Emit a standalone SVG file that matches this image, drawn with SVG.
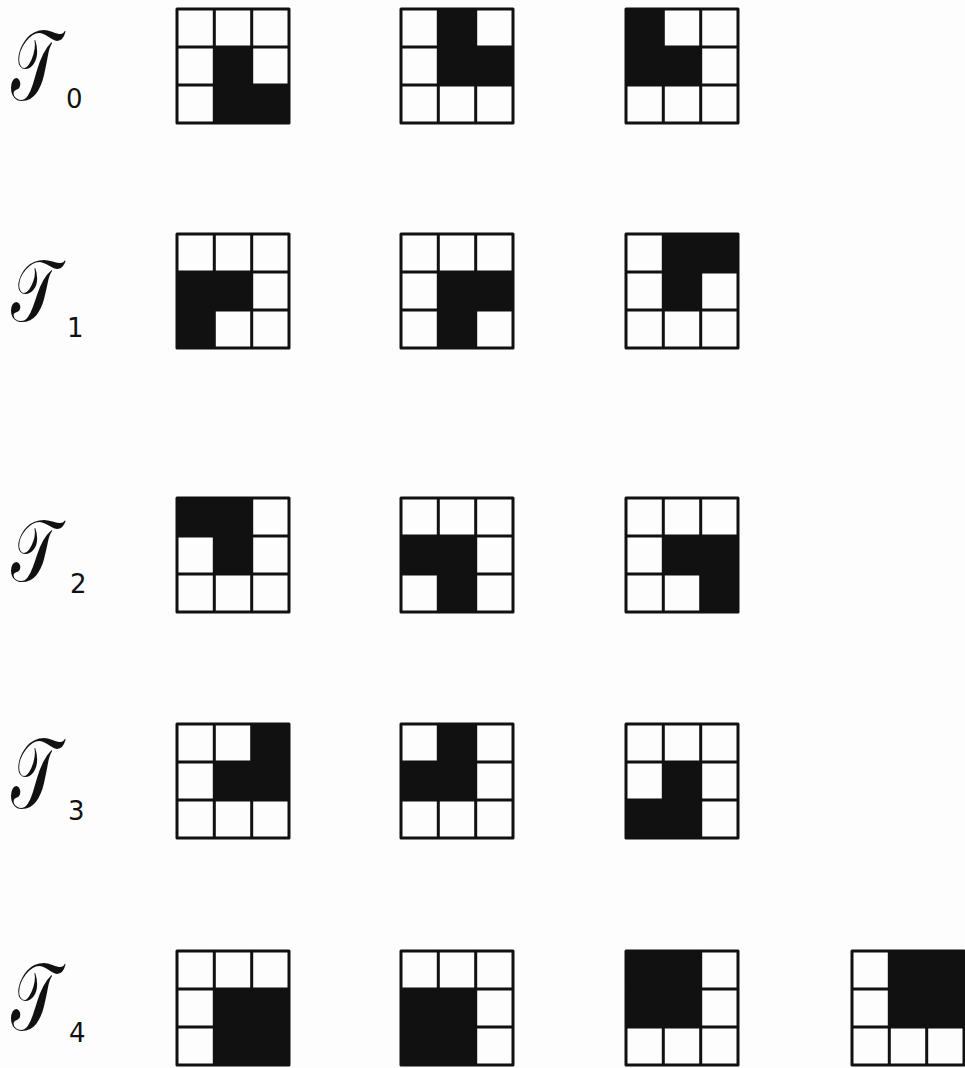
<svg xmlns="http://www.w3.org/2000/svg" xmlns:xlink="http://www.w3.org/1999/xlink" width="965" height="1068" viewBox="0 0 965 1068">
<style>
.f{fill:#111}
.ln{fill:none;stroke:#111;stroke-width:3;stroke-linejoin:round}
.t{font-family:"DejaVu Serif","DejaVu Sans","Noto Sans",serif;font-size:100px;fill:#111}
.s{font-family:"DejaVu Sans","Liberation Sans",sans-serif;font-size:26px;fill:#111}
</style>
<defs>
<g id="grid">
<rect class="ln" x="0" y="0" width="112" height="114"/>
<path class="ln" d="M37.3,0V114M74.7,0V114M0,38H112M0,76H112"/>
</g>
</defs>
<rect width="965" height="1068" fill="#fdfdfd"/>
<g id="labels">
<g id="label0"><text class="t" transform="translate(11,100) scale(0.62,1)">𝒯</text><text class="s" x="66" y="108">0</text></g>
<g id="label1"><text class="t" transform="translate(11,321) scale(0.62,0.88)">𝒯</text><text class="s" x="67" y="337">1</text></g>
<g id="label2"><text class="t" transform="translate(11,581) scale(0.62,0.88)">𝒯</text><text class="s" x="70" y="593">2</text></g>
<g id="label3"><text class="t" transform="translate(11,808) scale(0.62,1)">𝒯</text><text class="s" x="68" y="820">3</text></g>
<g id="label4"><text class="t" transform="translate(11,1030) scale(0.62,0.95)">𝒯</text><text class="s" x="69" y="1042">4</text></g>
</g>
<g id="r0c0" transform="translate(177,9)"><rect class="f" x="37.3" y="38" width="37.4" height="76"/><rect class="f" x="74.7" y="76" width="37.3" height="38"/><use xlink:href="#grid"/></g>
<g id="r0c1" transform="translate(401,9)"><rect class="f" x="37.3" y="0" width="37.4" height="76"/><rect class="f" x="74.7" y="38" width="37.3" height="38"/><use xlink:href="#grid"/></g>
<g id="r0c2" transform="translate(626,9)"><rect class="f" x="0" y="0" width="37.3" height="76"/><rect class="f" x="37.3" y="38" width="37.4" height="38"/><use xlink:href="#grid"/></g>
<g id="r1c0" transform="translate(177,234)"><rect class="f" x="0" y="38" width="74.7" height="38"/><rect class="f" x="0" y="76" width="37.3" height="38"/><use xlink:href="#grid"/></g>
<g id="r1c1" transform="translate(401,234)"><rect class="f" x="37.3" y="38" width="74.7" height="38"/><rect class="f" x="37.3" y="76" width="37.4" height="38"/><use xlink:href="#grid"/></g>
<g id="r1c2" transform="translate(626,234)"><rect class="f" x="37.3" y="0" width="74.7" height="38"/><rect class="f" x="37.3" y="38" width="37.4" height="38"/><use xlink:href="#grid"/></g>
<g id="r2c0" transform="translate(177,498)"><rect class="f" x="0" y="0" width="74.7" height="38"/><rect class="f" x="37.3" y="38" width="37.4" height="38"/><use xlink:href="#grid"/></g>
<g id="r2c1" transform="translate(401,498)"><rect class="f" x="0" y="38" width="74.7" height="38"/><rect class="f" x="37.3" y="76" width="37.4" height="38"/><use xlink:href="#grid"/></g>
<g id="r2c2" transform="translate(626,498)"><rect class="f" x="37.3" y="38" width="74.7" height="38"/><rect class="f" x="74.7" y="76" width="37.3" height="38"/><use xlink:href="#grid"/></g>
<g id="r3c0" transform="translate(177,724)"><rect class="f" x="74.7" y="0" width="37.3" height="38"/><rect class="f" x="37.3" y="38" width="74.7" height="38"/><use xlink:href="#grid"/></g>
<g id="r3c1" transform="translate(401,724)"><rect class="f" x="37.3" y="0" width="37.4" height="38"/><rect class="f" x="0" y="38" width="74.7" height="38"/><use xlink:href="#grid"/></g>
<g id="r3c2" transform="translate(626,724)"><rect class="f" x="37.3" y="38" width="37.4" height="38"/><rect class="f" x="0" y="76" width="74.7" height="38"/><use xlink:href="#grid"/></g>
<g id="r4c0" transform="translate(177,951)"><rect class="f" x="37.3" y="38" width="74.7" height="76"/><use xlink:href="#grid"/></g>
<g id="r4c1" transform="translate(401,951)"><rect class="f" x="0" y="38" width="74.7" height="76"/><use xlink:href="#grid"/></g>
<g id="r4c2" transform="translate(626,951)"><rect class="f" x="0" y="0" width="74.7" height="76"/><use xlink:href="#grid"/></g>
<g id="r4c3" transform="translate(852,951)"><rect class="f" x="37.3" y="0" width="74.7" height="76"/><use xlink:href="#grid"/></g>
</svg>
